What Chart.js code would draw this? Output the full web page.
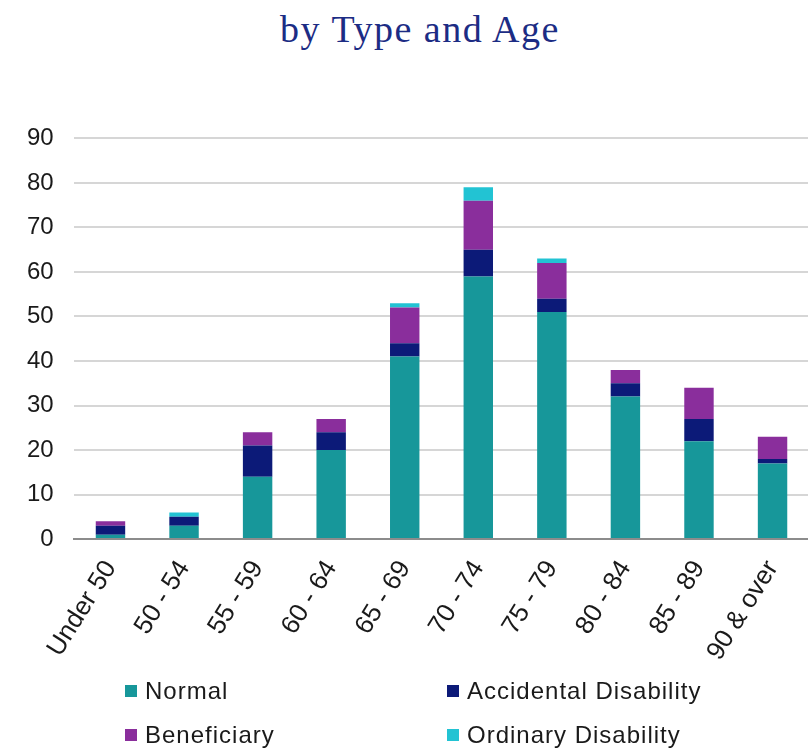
<!DOCTYPE html>
<html>
<head>
<meta charset="utf-8">
<script src="https://cdn.jsdelivr.net/npm/chart.js@4.4.1/dist/chart.umd.min.js"></script>
<style>
  html, body { margin: 0; padding: 0; background: #fff; }
  #wrap { position: relative; width: 808px; height: 750px; overflow: hidden; }
  #title { position: absolute; top: 7px; left: 16px; width: 808px; text-align: center; letter-spacing: 1.5px;
    font-family: 'Liberation Serif', 'DejaVu Serif', serif; font-size: 38px; color: #1c2c84; }
  #box { position: absolute; top: 104px; left: -20px; width: 835px; height: 578px; }
  #legend { position: absolute; top: 676px; left: 125px; width: 660px;
    display: grid; grid-template-columns: 322px 320px; row-gap: 15px; letter-spacing: 1px;
    font-family: 'Liberation Sans', Arial, sans-serif; font-size: 24px; color: #1a1a1a; }
  .item { display: flex; align-items: center; height: 29px; }
  .sw { width: 12px; height: 12px; margin-right: 8px; display: inline-block; }
</style>
</head>
<body>
<div id="wrap">
  <div id="title">by Type and Age</div>
  <div id="box"><canvas id="retireesChart"></canvas></div>
  <div id="legend"></div>
</div>
<script>
// ===== RETIREES BY TYPE AND AGE =====
var ageGroups   = ['Under 50', '50 - 54', '55 - 59', '60 - 64', '65 - 69', '70 - 74', '75 - 79', '80 - 84', '85 - 89', '90 & over'];
var normal      = [1, 3, 14, 20, 41, 59, 51, 32, 22, 17];
var accidental  = [2, 2, 7, 4, 3, 6, 3, 3, 5, 1];
var beneficiary = [1, 0, 3, 3, 8, 11, 8, 3, 7, 5];
var ordinary    = [0, 1, 0, 0, 1, 3, 1, 0, 0, 0];
var yTicks      = [0, 10, 20, 30, 40, 50, 60, 70, 80, 90];

var series = [
  { label: 'Normal',                data: normal,      color: '#17979a' },
  { label: 'Accidental Disability', data: accidental,  color: '#0c1a78' },
  { label: 'Beneficiary',           data: beneficiary, color: '#8a2e9c' },
  { label: 'Ordinary Disability',   data: ordinary,    color: '#22c3d3' }
];

var sans = "'Liberation Sans', Arial, sans-serif";

var ctx = document.getElementById('retireesChart');
new Chart(ctx.getContext('2d'), {
  type: 'bar',
  data: {
    labels: ageGroups,
    datasets: series.map(function(s) {
      return { label: s.label, data: s.data, backgroundColor: s.color, borderWidth: 0,
        barPercentage: 0.4, categoryPercentage: 1.0 };
    })
  },
  options: {
    responsive: true, maintainAspectRatio: false, animation: false,
    layout: { padding: { top: 21, left: 27, right: 0, bottom: 0 } },
    plugins: { legend: { display: false }, tooltip: { enabled: false } },
    scales: {
      x: { stacked: true,
        grid: { display: false, drawTicks: false },
        border: { display: true, color: '#8c8c8c', width: 2 },
        ticks: { font: { family: sans, size: 26 }, color: '#1a1a1a', minRotation: 58, maxRotation: 58, padding: 16 } },
      y: { stacked: true, min: 0, max: 90,
        afterBuildTicks: function(axis) { axis.ticks = yTicks.map(function(v) { return { value: v }; }); },
        grid: { color: '#d6d6d6', lineWidth: 2, drawTicks: false },
        border: { display: false },
        ticks: { font: { family: sans, size: 24 }, color: '#1a1a1a', padding: 20 } }
    }
  }
});

var lg = document.getElementById('legend');
series.forEach(function(s) {
  var d = document.createElement('div');
  d.className = 'item';
  d.innerHTML = '<span class="sw" style="background:' + s.color + '"></span>' + s.label;
  lg.appendChild(d);
});
</script>
</body>
</html>
